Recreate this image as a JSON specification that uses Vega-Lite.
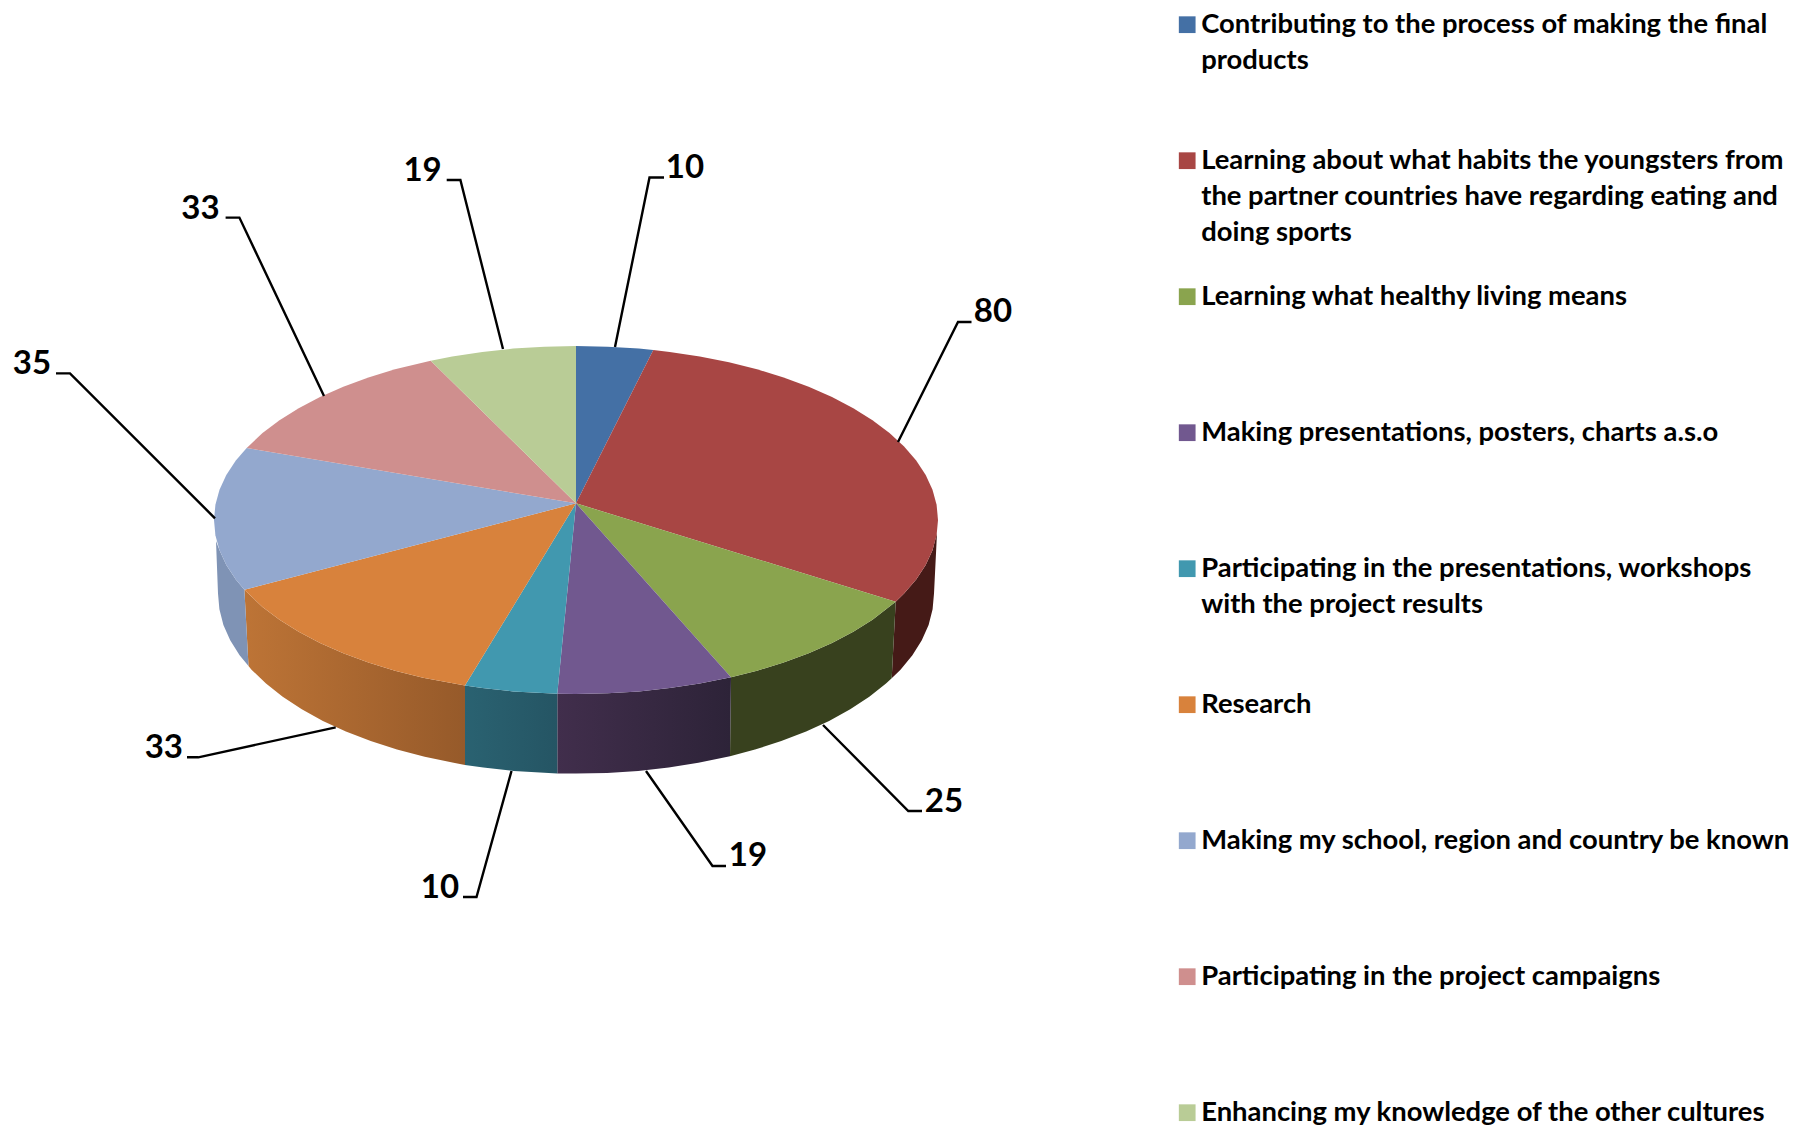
{
"$schema":"https://vega.github.io/schema/vega-lite/v6.json",
"width":1796,"height":1126,"padding":0,"autosize":{"type":"none"},"background":"white",
"config":{"view":{"stroke":null},"style":{"guide-label":{"lineHeight":36}}},
"datasets":{
"sides":[
{"s":"habits","i":0,"x":937,"y":533},{"s":"habits","i":1,"x":932.5,"y":550.2},{"s":"habits","i":2,"x":925.7,"y":565},{"s":"habits","i":3,"x":916.2,"y":579.5},{"s":"habits","i":4,"x":904.1,"y":593.5},{"s":"habits","i":5,"x":895.7,"y":601.7},{"s":"habits","i":6,"x":891.7,"y":678.3},{"s":"habits","i":7,"x":900.5,"y":669.7},{"s":"habits","i":8,"x":912.4,"y":655.2},{"s":"habits","i":9,"x":921.8,"y":640.2},{"s":"habits","i":10,"x":928.6,"y":624.9},{"s":"habits","i":11,"x":932.6,"y":609.3},{"s":"habits","i":12,"x":934,"y":593.6},
{"s":"healthy","i":0,"x":895.7,"y":601.7},{"s":"healthy","i":1,"x":872.5,"y":619.8},{"s":"healthy","i":2,"x":853.3,"y":631.8},{"s":"healthy","i":3,"x":832,"y":643},{"s":"healthy","i":4,"x":808.7,"y":653.3},{"s":"healthy","i":5,"x":783.6,"y":662.5},{"s":"healthy","i":6,"x":757,"y":670.7},{"s":"healthy","i":7,"x":731,"y":677.3},{"s":"healthy","i":8,"x":730,"y":756.3},{"s":"healthy","i":9,"x":755,"y":749.5},{"s":"healthy","i":10,"x":781.3,"y":741.1},{"s":"healthy","i":11,"x":806.1,"y":731.5},{"s":"healthy","i":12,"x":829.1,"y":720.9},{"s":"healthy","i":13,"x":850.2,"y":709.3},{"s":"healthy","i":14,"x":869.3,"y":696.8},{"s":"healthy","i":15,"x":886,"y":683.6},{"s":"healthy","i":16,"x":891.7,"y":678.3},
{"s":"presentations","i":0,"x":731,"y":677.3},{"s":"presentations","i":1,"x":699.8,"y":683.5},{"s":"presentations","i":2,"x":669.7,"y":688.1},{"s":"presentations","i":3,"x":638.9,"y":691.4},{"s":"presentations","i":4,"x":607.6,"y":693.3},{"s":"presentations","i":5,"x":576,"y":694},{"s":"presentations","i":6,"x":557.3,"y":693.8},{"s":"presentations","i":7,"x":557.3,"y":773.4},{"s":"presentations","i":8,"x":576,"y":773.6},{"s":"presentations","i":9,"x":607.2,"y":772.9},{"s":"presentations","i":10,"x":638.2,"y":770.9},{"s":"presentations","i":11,"x":668.7,"y":767.5},{"s":"presentations","i":12,"x":698.4,"y":762.7},{"s":"presentations","i":13,"x":730,"y":756.3},
{"s":"workshops","i":0,"x":557.3,"y":693.8},{"s":"workshops","i":1,"x":513.1,"y":691.4},{"s":"workshops","i":2,"x":482.3,"y":688.1},{"s":"workshops","i":3,"x":465,"y":685.6},{"s":"workshops","i":4,"x":465,"y":765},{"s":"workshops","i":5,"x":483.3,"y":767.5},{"s":"workshops","i":6,"x":513.8,"y":770.9},{"s":"workshops","i":7,"x":557.3,"y":773.4},
{"s":"research","i":0,"x":465,"y":685.6},{"s":"research","i":1,"x":423,"y":677.7},{"s":"research","i":2,"x":395,"y":670.7},{"s":"research","i":3,"x":368.4,"y":662.5},{"s":"research","i":4,"x":343.3,"y":653.3},{"s":"research","i":5,"x":320,"y":643},{"s":"research","i":6,"x":298.7,"y":631.8},{"s":"research","i":7,"x":279.5,"y":619.8},{"s":"research","i":8,"x":262.5,"y":607},{"s":"research","i":9,"x":244.4,"y":589.7},{"s":"research","i":10,"x":248.5,"y":666},{"s":"research","i":11,"x":251.5,"y":669.7},{"s":"research","i":12,"x":266,"y":683.6},{"s":"research","i":13,"x":282.7,"y":696.8},{"s":"research","i":14,"x":301.8,"y":709.3},{"s":"research","i":15,"x":322.9,"y":720.9},{"s":"research","i":16,"x":345.9,"y":731.5},{"s":"research","i":17,"x":370.7,"y":741.1},{"s":"research","i":18,"x":397,"y":749.5},{"s":"research","i":19,"x":424.7,"y":756.7},{"s":"research","i":20,"x":453.6,"y":762.7},{"s":"research","i":21,"x":465,"y":765},
{"s":"known","i":0,"x":244.4,"y":589.7},{"s":"known","i":1,"x":235.8,"y":579.5},{"s":"known","i":2,"x":226.3,"y":565},{"s":"known","i":3,"x":219.5,"y":550.2},{"s":"known","i":4,"x":216,"y":541},{"s":"known","i":5,"x":218,"y":593.6},{"s":"known","i":6,"x":219.4,"y":609.3},{"s":"known","i":7,"x":223.4,"y":624.9},{"s":"known","i":8,"x":230.2,"y":640.2},{"s":"known","i":9,"x":239.6,"y":655.2},{"s":"known","i":10,"x":248.5,"y":666}
],
"faces":[
{"s":"final","i":0,"x":576,"y":503.3},{"s":"final","i":1,"x":576,"y":346},{"s":"final","i":2,"x":607.6,"y":346.7},{"s":"final","i":3,"x":638.9,"y":348.6},{"s":"final","i":4,"x":653.3,"y":350},
{"s":"habits","i":0,"x":576,"y":503.3},{"s":"habits","i":1,"x":653.3,"y":350},{"s":"habits","i":2,"x":669.7,"y":351.9},{"s":"habits","i":3,"x":699.8,"y":356.5},{"s":"habits","i":4,"x":729,"y":362.3},{"s":"habits","i":5,"x":757,"y":369.3},{"s":"habits","i":6,"x":783.6,"y":377.5},{"s":"habits","i":7,"x":808.7,"y":386.7},{"s":"habits","i":8,"x":832,"y":397},{"s":"habits","i":9,"x":853.3,"y":408.2},{"s":"habits","i":10,"x":872.5,"y":420.2},{"s":"habits","i":11,"x":889.5,"y":433},{"s":"habits","i":12,"x":904.1,"y":446.5},{"s":"habits","i":13,"x":916.2,"y":460.5},{"s":"habits","i":14,"x":925.7,"y":475},{"s":"habits","i":15,"x":932.5,"y":489.8},{"s":"habits","i":16,"x":936.6,"y":504.8},{"s":"habits","i":17,"x":938,"y":520},{"s":"habits","i":18,"x":936.6,"y":535.2},{"s":"habits","i":19,"x":932.5,"y":550.2},{"s":"habits","i":20,"x":925.7,"y":565},{"s":"habits","i":21,"x":916.2,"y":579.5},{"s":"habits","i":22,"x":904.1,"y":593.5},{"s":"habits","i":23,"x":895.7,"y":601.7},
{"s":"healthy","i":0,"x":576,"y":503.3},{"s":"healthy","i":1,"x":895.7,"y":601.7},{"s":"healthy","i":2,"x":872.5,"y":619.8},{"s":"healthy","i":3,"x":853.3,"y":631.8},{"s":"healthy","i":4,"x":832,"y":643},{"s":"healthy","i":5,"x":808.7,"y":653.3},{"s":"healthy","i":6,"x":783.6,"y":662.5},{"s":"healthy","i":7,"x":757,"y":670.7},{"s":"healthy","i":8,"x":731,"y":677.3},
{"s":"presentations","i":0,"x":576,"y":503.3},{"s":"presentations","i":1,"x":731,"y":677.3},{"s":"presentations","i":2,"x":699.8,"y":683.5},{"s":"presentations","i":3,"x":669.7,"y":688.1},{"s":"presentations","i":4,"x":638.9,"y":691.4},{"s":"presentations","i":5,"x":607.6,"y":693.3},{"s":"presentations","i":6,"x":576,"y":694},{"s":"presentations","i":7,"x":557.3,"y":693.8},
{"s":"workshops","i":0,"x":576,"y":503.3},{"s":"workshops","i":1,"x":557.3,"y":693.8},{"s":"workshops","i":2,"x":513.1,"y":691.4},{"s":"workshops","i":3,"x":482.3,"y":688.1},{"s":"workshops","i":4,"x":465,"y":685.6},
{"s":"research","i":0,"x":576,"y":503.3},{"s":"research","i":1,"x":465,"y":685.6},{"s":"research","i":2,"x":423,"y":677.7},{"s":"research","i":3,"x":395,"y":670.7},{"s":"research","i":4,"x":368.4,"y":662.5},{"s":"research","i":5,"x":343.3,"y":653.3},{"s":"research","i":6,"x":320,"y":643},{"s":"research","i":7,"x":298.7,"y":631.8},{"s":"research","i":8,"x":279.5,"y":619.8},{"s":"research","i":9,"x":262.5,"y":607},{"s":"research","i":10,"x":244.4,"y":589.7},
{"s":"known","i":0,"x":576,"y":503.3},{"s":"known","i":1,"x":244.4,"y":589.7},{"s":"known","i":2,"x":235.8,"y":579.5},{"s":"known","i":3,"x":226.3,"y":565},{"s":"known","i":4,"x":219.5,"y":550.2},{"s":"known","i":5,"x":215.4,"y":535.2},{"s":"known","i":6,"x":214,"y":520},{"s":"known","i":7,"x":215.4,"y":504.8},{"s":"known","i":8,"x":219.5,"y":489.8},{"s":"known","i":9,"x":226.3,"y":475},{"s":"known","i":10,"x":235.8,"y":460.5},{"s":"known","i":11,"x":246.7,"y":448},
{"s":"campaigns","i":0,"x":576,"y":503.3},{"s":"campaigns","i":1,"x":246.7,"y":448},{"s":"campaigns","i":2,"x":262.5,"y":433},{"s":"campaigns","i":3,"x":279.5,"y":420.2},{"s":"campaigns","i":4,"x":298.7,"y":408.2},{"s":"campaigns","i":5,"x":320,"y":397},{"s":"campaigns","i":6,"x":343.3,"y":386.7},{"s":"campaigns","i":7,"x":368.4,"y":377.5},{"s":"campaigns","i":8,"x":395,"y":369.3},{"s":"campaigns","i":9,"x":430.7,"y":360.7},
{"s":"cultures","i":0,"x":576,"y":503.3},{"s":"cultures","i":1,"x":430.7,"y":360.7},{"s":"cultures","i":2,"x":452.2,"y":356.5},{"s":"cultures","i":3,"x":482.3,"y":351.9},{"s":"cultures","i":4,"x":513.1,"y":348.6},{"s":"cultures","i":5,"x":544.4,"y":346.7},{"s":"cultures","i":6,"x":576,"y":346}
],
"leaders":[
{"s":"final","i":0,"x":615,"y":347},{"s":"final","i":1,"x":649.5,"y":177.5},{"s":"final","i":2,"x":664,"y":177.5},
{"s":"habits","i":0,"x":898,"y":442},{"s":"habits","i":1,"x":958,"y":322},{"s":"habits","i":2,"x":971.5,"y":322},
{"s":"healthy","i":0,"x":823,"y":725},{"s":"healthy","i":1,"x":908.3,"y":811},{"s":"healthy","i":2,"x":922,"y":811},
{"s":"presentations","i":0,"x":646,"y":771},{"s":"presentations","i":1,"x":712.5,"y":866},{"s":"presentations","i":2,"x":726,"y":866},
{"s":"workshops","i":0,"x":511.5,"y":771},{"s":"workshops","i":1,"x":476.5,"y":897},{"s":"workshops","i":2,"x":463,"y":897},
{"s":"research","i":0,"x":335.7,"y":727.3},{"s":"research","i":1,"x":198.3,"y":757.3},{"s":"research","i":2,"x":187,"y":757.3},
{"s":"known","i":0,"x":215,"y":518.3},{"s":"known","i":1,"x":70,"y":373.4},{"s":"known","i":2,"x":56,"y":373.4},
{"s":"campaigns","i":0,"x":324,"y":396},{"s":"campaigns","i":1,"x":239.4,"y":217.6},{"s":"campaigns","i":2,"x":225.6,"y":217.6},
{"s":"cultures","i":0,"x":503,"y":349},{"s":"cultures","i":1,"x":460.4,"y":180},{"s":"cultures","i":2,"x":446.7,"y":180}
],
"values":[
{"s":"final","value":10,"x":685,"y":168},
{"s":"habits","value":80,"x":993,"y":312.4},
{"s":"healthy","value":25,"x":944,"y":801.5},
{"s":"presentations","value":19,"x":748,"y":856},
{"s":"workshops","value":10,"x":440,"y":887.5},
{"s":"research","value":33,"x":163.8,"y":747.6},
{"s":"known","value":35,"x":32,"y":364},
{"s":"campaigns","value":33,"x":200.4,"y":209.3},
{"s":"cultures","value":19,"x":422.6,"y":171}
]
},
"encoding":{
"x":{"field":"x","type":"quantitative","scale":{"domain":[0,1796],"nice":false,"zero":false},"axis":null},
"y":{"field":"y","type":"quantitative","scale":{"domain":[1126,0],"nice":false,"zero":false},"axis":null}
},
"layer":[
{"data":{"name":"sides"},"transform":[{"filter":"datum.s==='habits'"}],"mark":{"type":"line","filled":true,"fill":"#451A17","stroke":null},"encoding":{"order":{"field":"i","type":"quantitative"}}},
{"data":{"name":"sides"},"transform":[{"filter":"datum.s==='healthy'"}],"mark":{"type":"line","filled":true,"fill":"#38411E","stroke":null},"encoding":{"order":{"field":"i","type":"quantitative"}}},
{"data":{"name":"sides"},"transform":[{"filter":"datum.s==='presentations'"}],"mark":{"type":"line","filled":true,"stroke":null,"fill":{"gradient":"linear","x1":0,"x2":1,"y1":0,"y2":0,"stops":[{"offset":0,"color":"#412E4C"},{"offset":1,"color":"#2D2338"}]}},"encoding":{"order":{"field":"i","type":"quantitative"}}},
{"data":{"name":"sides"},"transform":[{"filter":"datum.s==='workshops'"}],"mark":{"type":"line","filled":true,"stroke":null,"fill":{"gradient":"linear","x1":0,"x2":1,"y1":0,"y2":0,"stops":[{"offset":0,"color":"#2A6271"},{"offset":1,"color":"#255564"}]}},"encoding":{"order":{"field":"i","type":"quantitative"}}},
{"data":{"name":"sides"},"transform":[{"filter":"datum.s==='research'"}],"mark":{"type":"line","filled":true,"stroke":null,"fill":{"gradient":"linear","x1":0,"x2":1,"y1":0,"y2":0,"stops":[{"offset":0,"color":"#BD7436"},{"offset":1,"color":"#965A2A"}]}},"encoding":{"order":{"field":"i","type":"quantitative"}}},
{"data":{"name":"sides"},"transform":[{"filter":"datum.s==='known'"}],"mark":{"type":"line","filled":true,"fill":"#7F93B5","stroke":null},"encoding":{"order":{"field":"i","type":"quantitative"}}},
{"data":{"name":"faces"},"mark":{"type":"line","filled":true,"strokeWidth":0},
"encoding":{"order":{"field":"i","type":"quantitative"},
"color":{"field":"s","type":"nominal",
"scale":{"domain":["final","habits","healthy","presentations","workshops","research","known","campaigns","cultures"],"range":["#4470A5","#A84644","#8AA44E","#71588F","#4198AF","#D8823C","#93A8CE","#CF8F8E","#B9CC96"]},
"legend":{"orient":"none","legendX":1173.5,"legendY":11,"title":null,"direction":"vertical","columns":1,"symbolType":"square","symbolSize":280,"symbolStrokeWidth":0,"labelFont":"Lato","labelFontWeight":"bold","labelFontSize":27.4,"labelColor":"#000000","labelLimit":900,"labelOffset":0.3,"rowPadding":35,"gridAlign":"all",
"labelExpr":"({final:['Contributing to the process of making the final','products'],habits:['Learning about what habits the youngsters from','the partner countries have regarding eating and','doing sports'],healthy:'Learning what healthy living means',presentations:'Making presentations, posters, charts a.s.o',workshops:['Participating in the presentations, workshops','with the project results'],research:'Research',known:'Making my school, region and country be known',campaigns:'Participating in the project campaigns',cultures:'Enhancing my knowledge of the other cultures'})[datum.label]"}}}},
{"data":{"name":"leaders"},"mark":{"type":"line","color":"#000000","strokeWidth":2.4,"strokeJoin":"miter"},"encoding":{"detail":{"field":"s"},"order":{"field":"i","type":"quantitative"}}},
{"data":{"name":"values"},"mark":{"type":"text","font":"Lato","fontWeight":"bold","fontSize":33,"color":"#000000","align":"center","baseline":"middle"},"encoding":{"text":{"field":"value","type":"quantitative"}}}
]
}
